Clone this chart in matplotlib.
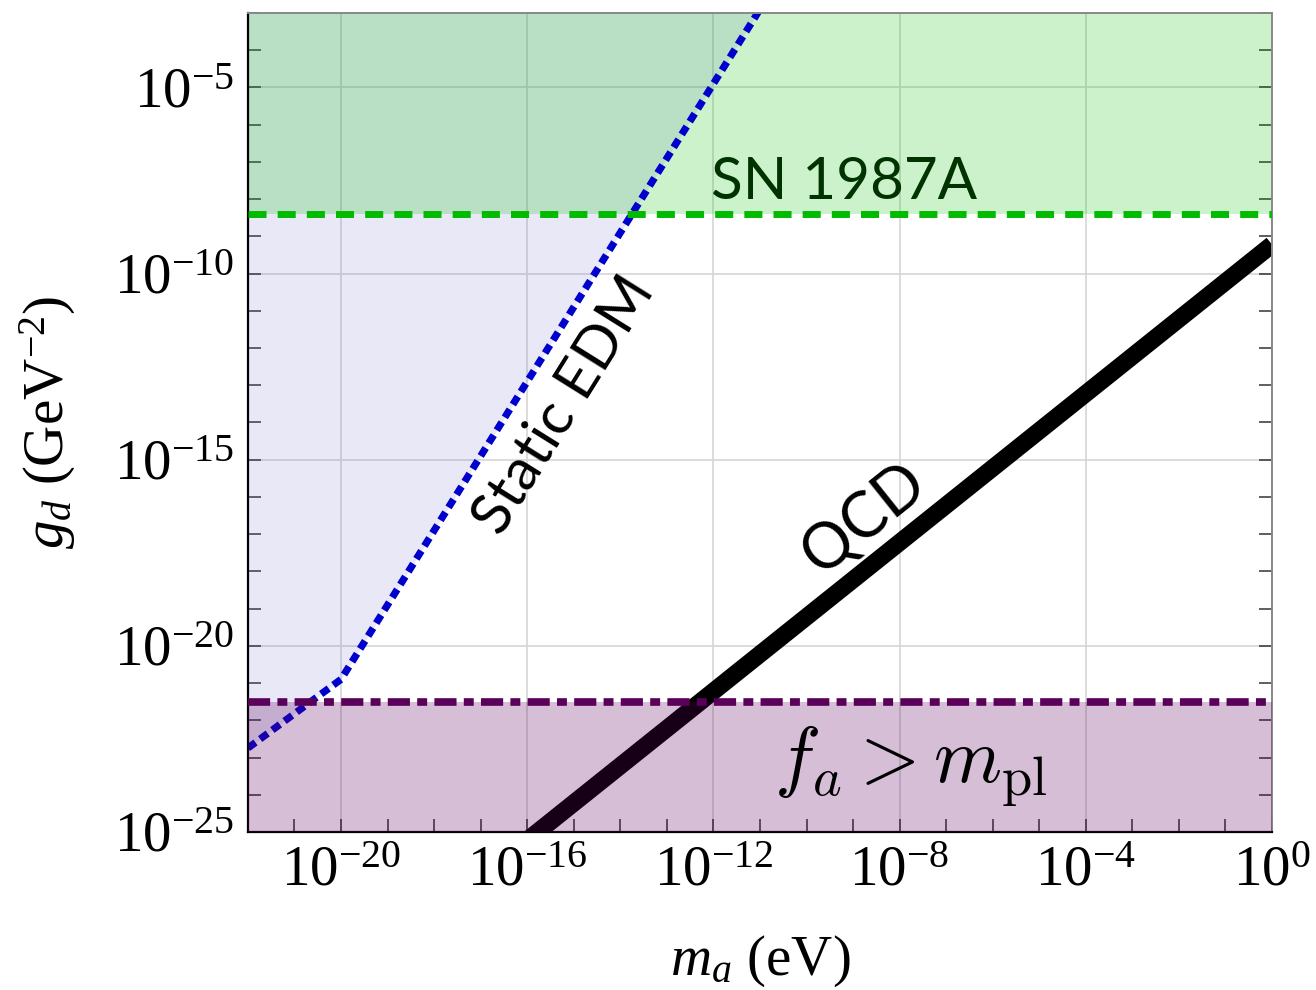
import math
import matplotlib.pyplot as plt
from matplotlib.ticker import LogLocator, FuncFormatter, NullFormatter

plt.rcParams['font.family'] = 'Liberation Serif'
plt.rcParams['mathtext.fontset'] = 'custom'
plt.rcParams['mathtext.rm'] = 'Liberation Serif'
plt.rcParams['mathtext.it'] = 'Liberation Serif:italic'

# axes ranges
m_lim = [1e-22, 1e0]
g_lim = [1e-25, 1e-3]

# static EDM limit, broken power law
m_edm = [1e-22, 1e-20, 1e-10]
g_edm = [1.8e-23, 1.26e-21, 1.26e-1]

# SN 1987A cooling bound
g_sn = 4.1e-9

# f_a > m_pl
g_pl = 3.2e-22

# QCD axion line
m_qcd = [1e-22, 1e0]
g_qcd = [6e-32, 6e-10]

fig = plt.figure(figsize=(13.16, 9.9), dpi=100)
ax = fig.add_axes([0.1884, 0.1596, 0.7782, 0.8273])
ax.set_xscale('log')
ax.set_yscale('log')
ax.set_xlim(m_lim)
ax.set_ylim(g_lim)

# shaded regions
ax.fill_between(m_edm, g_edm, 1e2, color=(0.4, 0.4, 0.8), alpha=0.15, lw=0, zorder=1)
ax.axhspan(g_sn, 1e2, color=(0.0, 0.75, 0.0), alpha=0.2, lw=0, zorder=1)

ax.plot(m_edm, g_edm, color='#0000cc', lw=5.2, ls=(0, (1.3, 0.8)),
        dash_capstyle='butt', zorder=2)
ax.plot(m_qcd, g_qcd, color='black', lw=12.5, solid_capstyle='butt', zorder=2)

ax.axhspan(1e-40, g_pl, color=(0.37, 0.0, 0.37), alpha=0.25, lw=0, zorder=3)
ax.axhline(g_pl, color='#5a005a', lw=5.5, ls=(0, (2.9, 0.95, 1.3, 0.95)), zorder=4)
ax.axhline(g_sn, color='#00bb00', lw=5, ls=(0, (2.6, 1.6)), zorder=4)

# labels on the plot
ax.text(10**-9.19, 10**-7.55, 'SN 1987A', family='Lato', fontsize=42,
        color='#003300', ha='center', va='center', zorder=5)
ax.text(10**-15.2, 10**-13.55, 'Static EDM', family='Lato', fontsize=42,
        rotation=58, ha='center', va='center', zorder=5)
ax.text(10**-8.75, 10**-16.59, 'QCD', family='Lato', fontsize=45,
        rotation=38.6, ha='center', va='center', zorder=5)
ax.text(10**-7.75, 10**-23.23, r'$f_a > m_{\rm pl}$', fontsize=56,
        math_fontfamily='cm', ha='center', va='center', zorder=5)

# ticks and grid
ax.xaxis.set_major_locator(LogLocator(base=1e4, numticks=20))
ax.yaxis.set_major_locator(LogLocator(base=1e5, numticks=20))
ax.xaxis.set_minor_locator(LogLocator(base=10, subs=(1.0,), numticks=50))
ax.yaxis.set_minor_locator(LogLocator(base=10, subs=(1.0,), numticks=50))
fmt = FuncFormatter(lambda v, p: r'$10^{%d}$' % round(math.log10(v)))
ax.xaxis.set_major_formatter(fmt)
ax.yaxis.set_major_formatter(fmt)
ax.xaxis.set_minor_formatter(NullFormatter())
ax.yaxis.set_minor_formatter(NullFormatter())
ax.tick_params(which='both', direction='in', length=9.5, width=1.1,
               color='#333333', top=False, right=True, labelsize=41, pad=10)
ax.grid(True, which='major', color='#d6d6d6', lw=1.2, zorder=0)
ax.set_axisbelow(True)

for s in ['left', 'bottom']:
    ax.spines[s].set_linewidth(1.6)
    ax.spines[s].set_color('black')
for s in ['top', 'right']:
    ax.spines[s].set_linewidth(1.4)
    ax.spines[s].set_color('#888888')

ax.set_xlabel(r'$m_a$ (eV)', fontsize=41, labelpad=26)
ax.set_ylabel(r'$g_d$ (GeV$^{-2}$)', fontsize=41, labelpad=26)

fig.savefig('out.png', dpi=100)
